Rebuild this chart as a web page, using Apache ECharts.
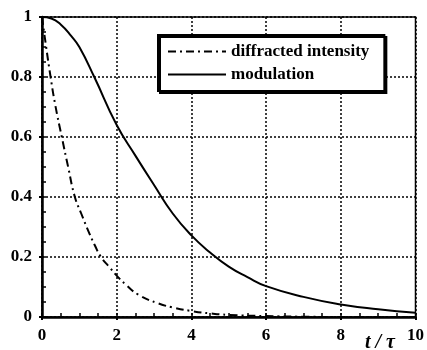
<!DOCTYPE html>
<html><head><meta charset="utf-8">
<script src="https://cdn.jsdelivr.net/npm/echarts@6/dist/echarts.min.js"></script>
<style>html,body{margin:0;padding:0;background:#fff}#c{width:427px;height:350px}</style>
</head><body><div id="c"></div>
<script>
const xTicks = [0, 2, 4, 6, 8, 10];
const yTicks = [0, 0.2, 0.4, 0.6, 0.8, 1];
const seriesNames = ['diffracted intensity', 'modulation'];
const tDiff = [0, 0.1, 0.23, 0.35, 0.53, 0.7, 0.88, 1.05, 1.27, 1.41, 1.58, 1.8, 2, 2.25, 2.6, 3.1, 3.5, 4, 4.5, 5, 6, 7, 8, 10];
const diffVals = [1, 0.91, 0.8, 0.71, 0.6, 0.5, 0.4, 0.345, 0.278, 0.24, 0.2, 0.167, 0.138, 0.107, 0.073, 0.046, 0.032, 0.02, 0.012, 0.007, 0.003, 0.001, 0, 0];
const tMod = [0, 0.25, 0.5, 0.78, 1, 1.4, 2, 2.5, 3, 3.5, 4, 4.5, 5, 5.5, 6, 7, 8, 9, 10];
const modVals = [1, 0.995, 0.975, 0.937, 0.9, 0.8, 0.64, 0.538, 0.44, 0.345, 0.272, 0.215, 0.168, 0.133, 0.103, 0.067, 0.042, 0.026, 0.014];
const axisTitle = 't / τ';

const font = 'Liberation Serif';
const chart = echarts.init(document.getElementById('c'), null, {renderer: 'canvas'});
const gridPos = {left: 42, right: 9, top: 17, bottom: 33};
chart.setOption({
  animation: false,
  backgroundColor: '#fff',
  grid: Object.assign({show: true, borderColor: '#000', borderWidth: 1.5, backgroundColor: 'transparent'}, gridPos),
  legend: {
    data: seriesNames,
    orient: 'vertical',
    left: 158, top: 35,
    itemWidth: 58, itemHeight: 14, itemGap: 6,
    padding: [8, 15, 8, 9],
    backgroundColor: '#fff',
    borderColor: '#000', borderWidth: 2,
    shadowColor: '#000', shadowOffsetX: 2, shadowOffsetY: 2, shadowBlur: 0,
    itemStyle: {opacity: 0},
    textStyle: {fontFamily: font, fontWeight: 'bold', fontSize: 17, color: '#000'}
  },
  xAxis: [{
    type: 'value', min: xTicks[0], max: xTicks[xTicks.length - 1], interval: 2,
    axisLine: {show: true, lineStyle: {color: '#000', width: 2.5}},
    axisTick: {show: true, length: 3, lineStyle: {color: '#000', width: 2}},
    axisLabel: {margin: 10, fontFamily: font, fontWeight: 'bold', fontSize: 17, color: '#000'},
    splitLine: {show: true, lineStyle: {color: '#000', width: 1.5, type: [2, 2]}}
  }, {
    type: 'value', min: 0, max: 10, interval: 0.5, position: 'bottom',
    axisLine: {show: false},
    axisTick: {show: true, inside: true, length: 4, lineStyle: {color: '#000', width: 1.5}},
    axisLabel: {show: false}, splitLine: {show: false}
  }],
  yAxis: [{
    type: 'value', min: yTicks[0], max: yTicks[yTicks.length - 1], interval: 0.2,
    axisLine: {show: true, lineStyle: {color: '#000', width: 2.5}},
    axisTick: {show: true, length: 3, lineStyle: {color: '#000', width: 2}},
    axisLabel: {margin: 10, fontFamily: font, fontWeight: 'bold', fontSize: 17, color: '#000',
      formatter: v => String(Math.round(v * 10) / 10)},
    splitLine: {show: true, lineStyle: {color: '#000', width: 1.5, type: [2, 2]}}
  }, {
    type: 'value', min: 0, max: 1, interval: 0.05, position: 'left',
    axisLine: {show: false},
    axisTick: {show: true, inside: true, length: 4, lineStyle: {color: '#000', width: 1.5}},
    axisLabel: {show: false}, splitLine: {show: false}
  }],
  series: [{
    name: seriesNames[0], type: 'line', smooth: 0.5, symbol: 'none',
    itemStyle: {color: '#000'},
    data: tDiff.map((t, i) => [t, diffVals[i]]),
    lineStyle: {color: '#000', width: 2, type: [8, 4, 2, 4]}, z: 3
  }, {
    name: seriesNames[1], type: 'line', smooth: 0.5, symbol: 'none',
    itemStyle: {color: '#000'},
    data: tMod.map((t, i) => [t, modVals[i]]),
    lineStyle: {color: '#000', width: 2, type: 'solid'}, z: 3
  }],
  graphic: [{
    type: 'text', left: 365, top: 333,
    style: {text: axisTitle, fontFamily: font, fontStyle: 'italic', fontWeight: 'bold', fontSize: 20, fill: '#000'}
  }]
});
</script></body></html>
